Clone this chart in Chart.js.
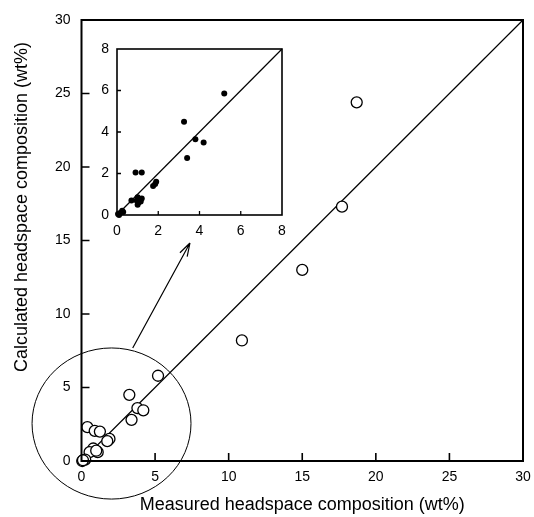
<!DOCTYPE html>
<html>
<head>
<meta charset="utf-8">
<script src="https://cdn.jsdelivr.net/npm/chart.js@4/dist/chart.umd.min.js"></script>
<style>
  html, body { margin: 0; padding: 0; background: #fff; }
  #wrap { position: relative; width: 534px; height: 517px; }
  canvas { position: absolute; left: 0; top: 0; }
</style>
</head>
<body>
<div id="wrap">
  <canvas id="main" width="534" height="517"></canvas>
  <canvas id="inset" width="534" height="517"></canvas>
</div>
<script>
// ---- data ----
const mainMeasured   = [18.7, 17.7, 15.0, 10.9, 5.2, 3.25, 3.8, 4.2, 3.4, 0.4, 0.9, 1.25, 1.9, 1.75, 1.1, 0.8, 0.55, 1.0, 0.25, 0.05, 0.1];
const mainCalculated = [24.4, 17.3, 13.0, 8.2, 5.8, 4.5, 3.6, 3.45, 2.8, 2.3, 2.05, 2.0, 1.5, 1.35, 0.6, 0.85, 0.6, 0.7, 0.1, 0.0, 0.05];
const insetMeasured   = [5.2, 3.25, 3.8, 4.2, 3.4, 0.9, 1.2, 1.75, 1.85, 1.9, 1.0, 1.05, 0.95, 1.1, 1.15, 1.0, 0.7, 1.2, 0.05, 0.15, 0.25, 0.3, 0.1];
const insetCalculated = [5.85, 4.5, 3.65, 3.5, 2.75, 2.05, 2.05, 1.4, 1.5, 1.6, 0.85, 0.6, 0.7, 0.75, 0.65, 0.5, 0.7, 0.8, 0.05, 0.1, 0.2, 0.15, 0.0];
const mainParityX = [0, 30];
const mainParityY = [0, 30];
const insetParityX = [0, 8];
const insetParityY = [0, 8];
const mainTicks = [0, 5, 10, 15, 20, 25, 30];
const insetTicks = [0, 2, 4, 6, 8];
const xTitle = 'Measured headspace composition (wt%)';
const yTitle = 'Calculated headspace composition (wt%)';
// circle annotation (data units of main chart) and arrow
const circleCenter = [2.04, 2.55];
const circleRadius = [5.4, 5.14];
const arrowFrom = [3.48, 7.69];
const arrowTo = [7.37, 14.83];

Chart.defaults.font.family = "'Liberation Sans', Arial, Helvetica, sans-serif";
Chart.defaults.color = '#000';
Chart.defaults.devicePixelRatio = 1;

const pts = (xs, ys) => xs.map((x, i) => ({x: x, y: ys[i]}));

function framePlugin(id, lw, tickLen, ticks) {
  return {
    id: id,
    afterDatasetsDraw(chart) {
      const {ctx, chartArea: a, scales} = chart;
      ctx.save();
      ctx.strokeStyle = '#000';
      ctx.lineWidth = lw;
      ctx.strokeRect(a.left, a.top, a.right - a.left, a.bottom - a.top);
      ctx.lineWidth = lw * 0.8;
      ctx.beginPath();
      ticks.slice(1, -1).forEach(v => {
        const px = scales.x.getPixelForValue(v);
        ctx.moveTo(px, a.bottom); ctx.lineTo(px, a.bottom - tickLen);
        const py = scales.y.getPixelForValue(v);
        ctx.moveTo(a.left, py); ctx.lineTo(a.left + tickLen, py);
      });
      ctx.stroke();
      ctx.restore();
    }
  };
}

const annotationPlugin = {
  id: 'annot',
  afterDraw(chart) {
    const {ctx, scales: {x, y}} = chart;
    ctx.save();
    ctx.strokeStyle = '#000';
    ctx.lineWidth = 1;
    const cx = x.getPixelForValue(circleCenter[0]);
    const cy = y.getPixelForValue(circleCenter[1]);
    const rx = x.getPixelForValue(circleCenter[0] + circleRadius[0]) - cx;
    const ry = cy - y.getPixelForValue(circleCenter[1] + circleRadius[1]);
    ctx.beginPath();
    ctx.ellipse(cx, cy, rx, ry, 0, 0, Math.PI * 2);
    ctx.stroke();
    const x1 = x.getPixelForValue(arrowFrom[0]), y1 = y.getPixelForValue(arrowFrom[1]);
    const x2 = x.getPixelForValue(arrowTo[0]), y2 = y.getPixelForValue(arrowTo[1]);
    ctx.lineWidth = 1.2;
    ctx.beginPath();
    ctx.moveTo(x1, y1); ctx.lineTo(x2, y2);
    const ang = Math.atan2(y2 - y1, x2 - x1);
    const hl = 14, ha = 0.3;
    ctx.moveTo(x2, y2); ctx.lineTo(x2 - hl * Math.cos(ang - ha), y2 - hl * Math.sin(ang - ha));
    ctx.moveTo(x2, y2); ctx.lineTo(x2 - hl * Math.cos(ang + ha), y2 - hl * Math.sin(ang + ha));
    ctx.stroke();
    // y-axis title
    ctx.fillStyle = '#000';
    ctx.font = "18px 'Liberation Sans', Arial, sans-serif";
    ctx.translate(22, 207);
    ctx.rotate(-Math.PI / 2);
    ctx.textAlign = 'center';
    ctx.textBaseline = 'middle';
    ctx.fillText(yTitle, 0, 0);
    ctx.restore();
  }
};

new Chart(document.getElementById('main'), {
  type: 'scatter',
  data: {
    datasets: [
      {
        type: 'scatter',
        data: pts(mainMeasured, mainCalculated),
        pointStyle: 'circle',
        pointRadius: 5.5,
        pointBorderWidth: 1.3,
        pointBorderColor: '#000',
        pointBackgroundColor: '#fff',
        clip: false,
        order: 0
      },
      {
        type: 'line',
        data: pts(mainParityX, mainParityY),
        borderColor: '#000',
        borderWidth: 1.2,
        pointRadius: 0,
        fill: false,
        clip: false,
        order: 1
      }
    ]
  },
  options: {
    responsive: false,
    animation: false,
    layout: { padding: { left: 0, top: 20, right: 11, bottom: 0 } },
    plugins: { legend: { display: false }, tooltip: { enabled: false } },
    scales: {
      x: {
        type: 'linear', min: 0, max: 30,
        afterBuildTicks: s => { s.ticks = mainTicks.map(v => ({value: v})); },
        afterFit: s => { s.height = 56; s.paddingLeft = 0; s.paddingRight = 0; },
        grid: { display: false, drawTicks: false },
        border: { display: false },
        ticks: { font: { size: 14 }, padding: 8, maxRotation: 0 },
        title: { display: true, text: xTitle, font: { size: 18 }, padding: { top: 0, bottom: 1 } }
      },
      y: {
        type: 'linear', min: 0, max: 30,
        afterBuildTicks: s => { s.ticks = mainTicks.map(v => ({value: v})); },
        afterFit: s => { s.width = 81.5; s.paddingTop = 0; s.paddingBottom = 0; },
        grid: { display: false, drawTicks: false },
        border: { display: false },
        ticks: { font: { size: 14 }, padding: 11 }
      }
    }
  },
  plugins: [framePlugin('frameMain', 2, 8, mainTicks), annotationPlugin]
});

new Chart(document.getElementById('inset'), {
  type: 'scatter',
  data: {
    datasets: [
      {
        type: 'scatter',
        data: pts(insetMeasured, insetCalculated),
        pointStyle: 'circle',
        pointRadius: 3,
        pointBorderWidth: 0,
        pointBackgroundColor: '#000',
        clip: false,
        order: 0
      },
      {
        type: 'line',
        data: pts(insetParityX, insetParityY),
        borderColor: '#000',
        borderWidth: 1.2,
        pointRadius: 0,
        fill: false,
        clip: false,
        order: 1
      }
    ]
  },
  options: {
    responsive: false,
    animation: false,
    layout: { padding: { left: 87, top: 49, right: 252, bottom: 272 } },
    plugins: { legend: { display: false }, tooltip: { enabled: false } },
    scales: {
      x: {
        type: 'linear', min: 0, max: 8,
        afterBuildTicks: s => { s.ticks = insetTicks.map(v => ({value: v})); },
        afterFit: s => { s.height = 30; s.paddingLeft = 0; s.paddingRight = 0; },
        grid: { display: false, drawTicks: false },
        border: { display: false },
        ticks: { font: { size: 14 }, padding: 8, maxRotation: 0 }
      },
      y: {
        type: 'linear', min: 0, max: 8,
        afterBuildTicks: s => { s.ticks = insetTicks.map(v => ({value: v})); },
        afterFit: s => { s.width = 30; s.paddingTop = 0; s.paddingBottom = 0; },
        grid: { display: false, drawTicks: false },
        border: { display: false },
        ticks: { font: { size: 14 }, padding: 8 }
      }
    }
  },
  plugins: [framePlugin('frameInset', 1.6, 4, insetTicks)]
});
</script>
</body>
</html>
